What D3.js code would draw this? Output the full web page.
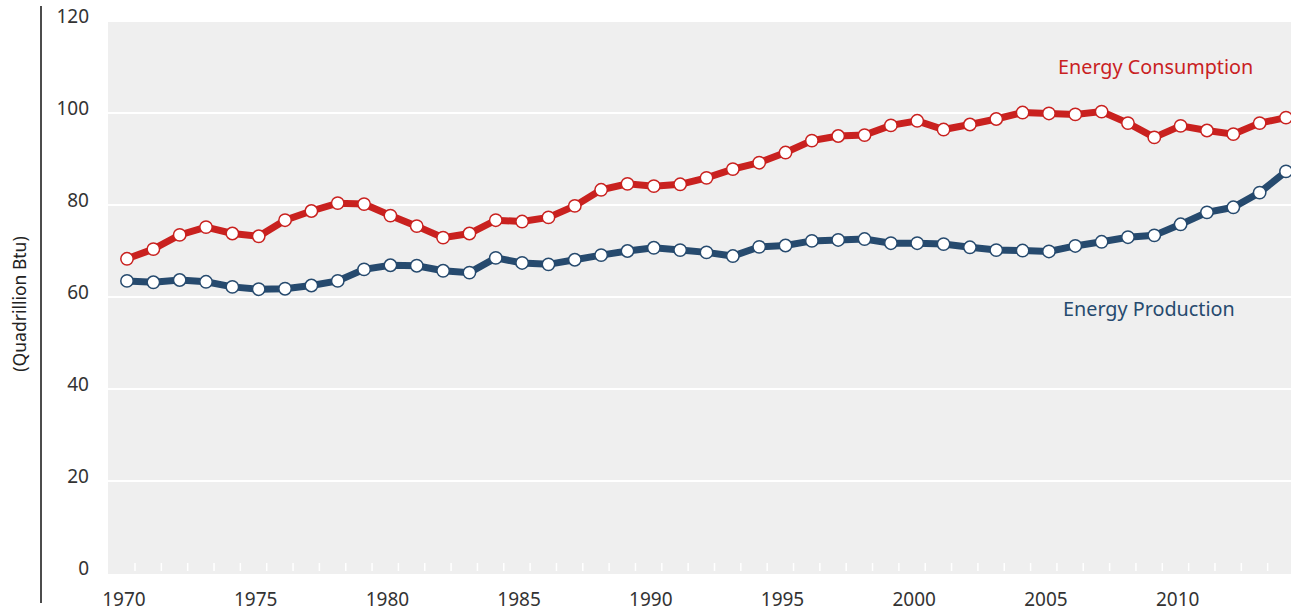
<!DOCTYPE html>
<html>
<head>
<meta charset="utf-8">
<script src="https://cdn.jsdelivr.net/npm/d3@7"></script>
<style>
	body { margin: 0; background: #fff; }
	text { font-family: "Noto Sans", Lato, sans-serif; }
</style>
</head>
<body>
<div id="wrapper"></div>
<script>
// Data
const years = d3.range(1970, 2015)

const consumption = [
	68.3, 70.4, 73.5, 75.2, 73.8, 73.2, 76.7, 78.7, 80.4, 80.2,
	77.7, 75.4, 72.9, 73.8, 76.7, 76.4, 77.3, 79.8, 83.3, 84.6,
	84.1, 84.5, 85.9, 87.8, 89.2, 91.4, 94.0, 95.0, 95.2, 97.3,
	98.3, 96.4, 97.5, 98.7, 100.1, 99.9, 99.7, 100.3, 97.8, 94.7,
	97.2, 96.2, 95.4, 97.8, 99.0
]

const production = [
	63.5, 63.2, 63.7, 63.3, 62.2, 61.7, 61.8, 62.5, 63.5, 66.0,
	66.9, 66.8, 65.7, 65.3, 68.5, 67.4, 67.1, 68.1, 69.1, 70.0,
	70.7, 70.2, 69.7, 68.9, 70.9, 71.2, 72.2, 72.4, 72.6, 71.7,
	71.7, 71.5, 70.8, 70.2, 70.1, 69.9, 71.1, 72.0, 73.0, 73.4,
	75.8, 78.4, 79.5, 82.7, 87.3
]

const yTicks = [0, 20, 40, 60, 80, 100, 120]
const xTicks = [1970, 1975, 1980, 1985, 1990, 1995, 2000, 2005, 2010]

const seriesNames = ['Energy Consumption', 'Energy Production']
const yTitle = '(Quadrillion Btu)'

async function drawChart() {
	// Chart Dimensions
	let dimensions = {
		width: 1291,
		height: 612,
		plot: { left: 108, right: 1291, top: 22, bottom: 574 }
	}

	const red = '#c9211f'
	const navy = '#264a6e'

	// Draw canvas
	const wrapper = d3.select('#wrapper')
		.append('svg')
			.attr('width', dimensions.width)
			.attr('height', dimensions.height)

	// Scales
	const xScale = d3.scaleLinear()
		.domain([1970, 2014])
		.range([127, 1286])

	const yScale = d3.scaleLinear()
		.domain([0, 120])
		.range([573, 21])

	// plot background
	wrapper.append('rect')
		.attr('x', dimensions.plot.left)
		.attr('y', dimensions.plot.top)
		.attr('width', dimensions.plot.right - dimensions.plot.left)
		.attr('height', dimensions.plot.bottom - dimensions.plot.top)
		.attr('fill', '#efefef')

	// gridlines
	wrapper.append('g')
		.selectAll('line')
		.data(yTicks.filter(d => d > 0 && d < 120))
		.join('line')
			.attr('x1', dimensions.plot.left)
			.attr('x2', dimensions.plot.right)
			.attr('y1', d => yScale(d))
			.attr('y2', d => yScale(d))
			.attr('stroke', '#fff')
			.attr('stroke-width', 2)

	// little white ticks at the bottom, one per year
	wrapper.append('g')
		.selectAll('line')
		.data(years)
		.join('line')
			.attr('x1', d => xScale(d) + 8)
			.attr('x2', d => xScale(d) + 8)
			.attr('y1', 563)
			.attr('y2', 571)
			.attr('stroke', '#fff')
			.attr('stroke-width', 1.5)

	// left rule
	wrapper.append('line')
		.attr('x1', 41).attr('x2', 41)
		.attr('y1', 6).attr('y2', 603)
		.attr('stroke', '#111')
		.attr('stroke-width', 1.5)

	// y labels
	wrapper.append('g')
		.selectAll('text')
		.data(yTicks)
		.join('text')
			.attr('x', 89)
			.attr('y', d => yScale(d) - 5)
			.attr('dy', '0.35em')
			.attr('text-anchor', 'end')
			.attr('font-size', 19)
			.attr('fill', '#333')
			.text(d => d)

	// x labels
	wrapper.append('g')
		.selectAll('text')
		.data(xTicks)
		.join('text')
			.attr('x', d => xScale(d) - 3)
			.attr('y', 606)
			.attr('text-anchor', 'middle')
			.attr('font-size', 19)
			.attr('fill', '#333')
			.text(d => d)

	wrapper.append('text')
		.attr('transform', 'translate(26, 304) rotate(-90)')
		.attr('text-anchor', 'middle')
		.attr('font-size', 17.5)
		.attr('fill', '#222')
		.text(yTitle)

	// Lines
	const lineGen = d3.line()
		.x((d, i) => xScale(years[i]))
		.y(d => yScale(d))

	const series = [
		{ values: production, color: navy },
		{ values: consumption, color: red }
	]

	series.forEach(s => {
		wrapper.append('path')
			.attr('d', lineGen(s.values))
			.attr('fill', 'none')
			.attr('stroke', s.color)
			.attr('stroke-width', 7)

		wrapper.append('g')
			.selectAll('circle')
			.data(s.values)
			.join('circle')
				.attr('cx', (d, i) => xScale(years[i]))
				.attr('cy', d => yScale(d))
				.attr('r', 6.2)
				.attr('fill', '#fff')
				.attr('stroke', s.color)
				.attr('stroke-width', 1.5)
	})

	// series labels
	wrapper.append('text')
		.attr('x', 1058)
		.attr('y', 74)
		.attr('font-size', 19.8)
		.attr('fill', red)
		.text(seriesNames[0])

	wrapper.append('text')
		.attr('x', 1063)
		.attr('y', 316)
		.attr('font-size', 19.8)
		.attr('fill', navy)
		.text(seriesNames[1])
}
drawChart()
</script>
</body>
</html>
